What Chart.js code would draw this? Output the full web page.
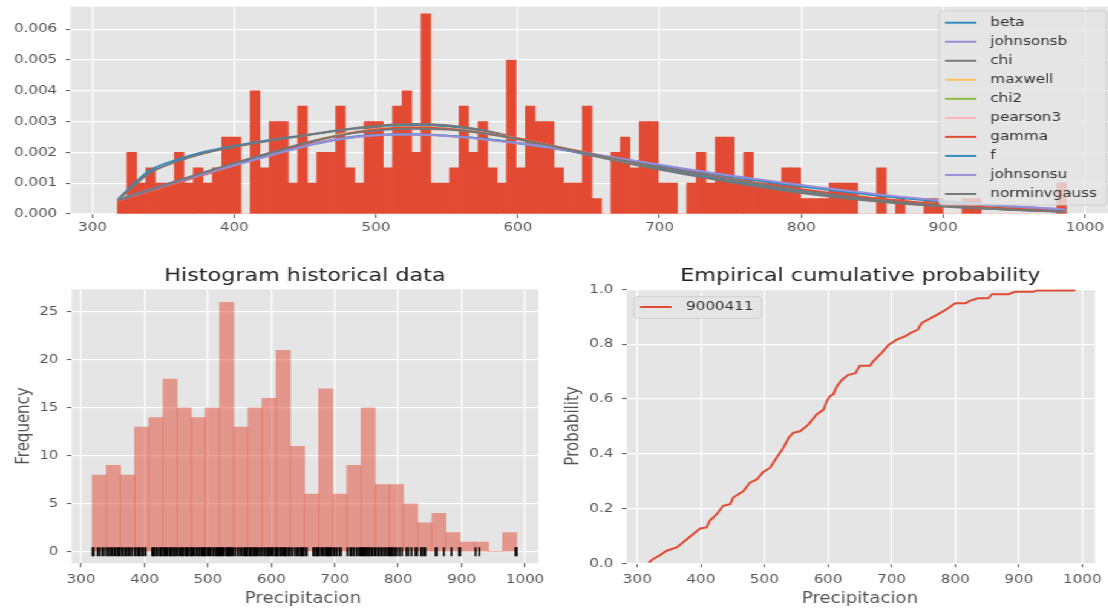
<!DOCTYPE html>
<html>
<head>
<meta charset="utf-8">
<script src="https://cdn.jsdelivr.net/npm/chart.js@4.4.0/dist/chart.umd.min.js"></script>
<style>
  html, body { margin: 0; padding: 0; background: #ffffff; overflow: hidden; width: 1108px; height: 610px; }
  /* the figure is laid out narrow and widened as a whole */
  #figure { position: absolute; left: 0; top: 0; width: 920px; height: 610px; transform: scaleX(1.21); transform-origin: 0 0; }
  #figure canvas { position: absolute; }
</style>
</head>
<body>
<div id="figure">
  <canvas id="fitChart" width="920" height="245" style="left:0;top:0"></canvas>
  <canvas id="histChart" width="455" height="360" style="left:0;top:250px"></canvas>
  <canvas id="ecdfChart" width="460" height="360" style="left:456px;top:250px"></canvas>
</div>
<script>
const FONT = "'DejaVu Sans', sans-serif";

// ---- tick labels ----
const xTickValues = [300, 400, 500, 600, 700, 800, 900, 1000];
const densityTicks = [0, 0.001, 0.002, 0.003, 0.004, 0.005, 0.006];
const frequencyTicks = [0, 5, 10, 15, 20, 25];
const probabilityTicks = [0, 0.2, 0.4, 0.6, 0.8, 1.0];

// ---- histogram bins (precipitation range) ----
const binStart = 317.6;
const binEnd = 987.0;

// density histogram, 100 bins
const fineDensity = [
  0.0005, 0.002, 0.001, 0.0015, 0.001, 0.001, 0.002, 0.001, 0.0015, 0.001,
  0.0015, 0.0025, 0.0025, 0, 0.004, 0.0015, 0.003, 0.003, 0.001, 0.0035,
  0.001, 0.002, 0.002, 0.0035, 0.0015, 0.001, 0.003, 0.003, 0.0015, 0.0035,
  0.004, 0.002, 0.0065, 0.001, 0.001, 0.0015, 0.0035, 0.002, 0.003, 0.0015,
  0.001, 0.005, 0.0015, 0.0035, 0.003, 0.003, 0.0015, 0.001, 0.001, 0.0035,
  0.0005, 0, 0.002, 0.0025, 0.0015, 0.003, 0.003, 0.001, 0.001, 0,
  0.001, 0.002, 0.001, 0.0025, 0.0025, 0.001, 0.002, 0.001, 0.001, 0.001,
  0.0015, 0.0015, 0.0005, 0.0005, 0.0005, 0.001, 0.001, 0.001, 0, 0,
  0.0015, 0, 0.0005, 0, 0, 0.0005, 0.0005, 0, 0, 0.0005,
  0.0005, 0, 0, 0, 0, 0, 0, 0, 0, 0.001
];

// frequency histogram, 30 bins
const coarseCounts = [8, 9, 8, 13, 14, 18, 15, 14, 15, 26, 13, 15, 16, 21, 11, 6, 17, 6, 9, 15, 7, 7, 5, 3, 4, 2, 1, 1, 0, 2];

// individual observations shown as a rug
const rugValues = [
  318, 320, 326, 329, 333, 336, 340, 343, 346, 349, 352, 355, 358, 360, 363, 366, 369, 372, 375, 378,
  381, 385, 388, 391, 393, 396, 399, 402,
  412, 414, 416, 419, 422, 425, 427, 430, 432, 434, 437, 440, 442, 445, 447, 449, 452, 455, 458, 460,
  462, 465, 467, 469, 472, 474, 476, 479, 482, 485, 487, 490, 492, 494, 496, 499, 501, 503, 506, 509,
  512, 514, 516, 518, 520, 522, 524, 527, 530, 532, 533, 535, 537, 540, 543, 547, 550, 553, 556, 559,
  561, 563, 566, 568, 571, 573, 575, 577, 580, 583, 586, 589, 592, 594, 596, 598, 601, 603, 606, 608,
  610, 613, 615, 617, 620, 622, 624, 627, 630, 633, 637, 640, 643, 646, 648, 650, 653, 656,
  666, 668, 671, 673, 675, 678, 680, 683, 686, 688, 690, 692, 694, 697, 700, 703, 707, 710,
  720, 724, 727, 730, 734, 737, 740, 742, 744, 746, 748, 750, 752, 754, 756, 759, 762, 765, 768, 771,
  774, 777, 780, 783, 786, 788, 790, 792, 795, 798, 802, 806,
  813, 816, 821, 827, 830, 836, 838, 841, 843, 859, 861, 872, 884, 896, 898, 922, 928, 985, 987
];

// empirical cumulative probability of station 9000411
const ecdfX = [318, 325, 336, 346, 362, 378, 388, 399, 409, 414, 425, 435, 446, 451, 467, 477, 488, 498, 509, 519,
  530, 538, 545, 556, 569, 582, 593, 598, 603, 608, 614, 622, 632, 643, 650, 666, 671, 684, 695, 708,
  721, 729, 741, 747, 761, 776, 789, 800, 816, 823, 836, 852, 858, 884, 894, 923, 928, 986, 987];
const ecdfY = [0.003, 0.016, 0.03, 0.046, 0.058, 0.088, 0.107, 0.127, 0.131, 0.155, 0.179, 0.21, 0.216, 0.24, 0.264, 0.294, 0.306, 0.333, 0.349, 0.385,
  0.422, 0.458, 0.476, 0.482, 0.506, 0.543, 0.561, 0.591, 0.61, 0.616, 0.646, 0.67, 0.688, 0.694, 0.721, 0.721, 0.737, 0.767, 0.797, 0.816,
  0.828, 0.84, 0.852, 0.876, 0.894, 0.913, 0.931, 0.949, 0.949, 0.958, 0.967, 0.967, 0.982, 0.982, 0.991, 0.991, 0.996, 0.996, 1.0];
const stationName = '9000411';

// ---- fitted probability densities ----
const fitX = [318, 340, 360, 380, 400, 425, 450, 475, 500, 525, 550, 575, 600, 625, 650, 675, 700, 750, 800, 850, 900, 950, 986];
const fitBeta =         [0.00048, 0.00140, 0.00177, 0.00203, 0.00221, 0.00240, 0.00256, 0.00272, 0.00284, 0.00289, 0.00285, 0.00270, 0.00243, 0.00217, 0.00192, 0.00169, 0.00147, 0.00106, 0.00071, 0.00044, 0.00026, 0.00014, 0.00008];
const fitJohnsonsb =    [0.00046, 0.00079, 0.00107, 0.00133, 0.00159, 0.00190, 0.00220, 0.00243, 0.00256, 0.00259, 0.00254, 0.00244, 0.00231, 0.00215, 0.00197, 0.00178, 0.00159, 0.00123, 0.00092, 0.00064, 0.00041, 0.00022, 0.00010];
const fitChi =          [0.00046, 0.00132, 0.00171, 0.00199, 0.00218, 0.00238, 0.00255, 0.00273, 0.00286, 0.00292, 0.00288, 0.00273, 0.00246, 0.00219, 0.00192, 0.00167, 0.00144, 0.00103, 0.00068, 0.00042, 0.00024, 0.00013, 0.00007];
const fitMaxwell =      [0.00046, 0.00076, 0.00104, 0.00132, 0.00160, 0.00195, 0.00230, 0.00259, 0.00276, 0.00282, 0.00278, 0.00264, 0.00244, 0.00220, 0.00196, 0.00173, 0.00153, 0.00113, 0.00078, 0.00050, 0.00030, 0.00016, 0.00009];
const fitChi2 =         [0.00045, 0.00075, 0.00103, 0.00131, 0.00159, 0.00194, 0.00229, 0.00257, 0.00275, 0.00281, 0.00277, 0.00264, 0.00244, 0.00221, 0.00197, 0.00174, 0.00153, 0.00114, 0.00079, 0.00051, 0.00031, 0.00017, 0.00010];
const fitPearson3 =     [0.00045, 0.00074, 0.00102, 0.00130, 0.00158, 0.00193, 0.00228, 0.00257, 0.00275, 0.00281, 0.00277, 0.00264, 0.00245, 0.00221, 0.00197, 0.00174, 0.00154, 0.00114, 0.00079, 0.00051, 0.00031, 0.00017, 0.00010];
const fitGamma =        [0.00045, 0.00074, 0.00102, 0.00130, 0.00158, 0.00193, 0.00228, 0.00256, 0.00274, 0.00281, 0.00277, 0.00264, 0.00245, 0.00221, 0.00197, 0.00174, 0.00154, 0.00114, 0.00080, 0.00052, 0.00031, 0.00017, 0.00010];
const fitF =            [0.00046, 0.00078, 0.00106, 0.00133, 0.00160, 0.00192, 0.00222, 0.00245, 0.00257, 0.00259, 0.00254, 0.00244, 0.00230, 0.00213, 0.00195, 0.00176, 0.00157, 0.00121, 0.00089, 0.00062, 0.00040, 0.00024, 0.00015];
const fitJohnsonsu =    [0.00045, 0.00077, 0.00105, 0.00132, 0.00158, 0.00190, 0.00221, 0.00244, 0.00256, 0.00258, 0.00253, 0.00243, 0.00230, 0.00214, 0.00196, 0.00178, 0.00160, 0.00125, 0.00094, 0.00066, 0.00043, 0.00025, 0.00015];
const fitNorminvgauss = [0.00045, 0.00078, 0.00108, 0.00137, 0.00165, 0.00199, 0.00231, 0.00256, 0.00272, 0.00277, 0.00274, 0.00262, 0.00243, 0.00220, 0.00196, 0.00173, 0.00152, 0.00112, 0.00076, 0.00047, 0.00027, 0.00014, 0.00008];

const fitNames = ['beta', 'johnsonsb', 'chi', 'maxwell', 'chi2', 'pearson3', 'gamma', 'f', 'johnsonsu', 'norminvgauss'];
const fitSeries = [fitBeta, fitJohnsonsb, fitChi, fitMaxwell, fitChi2, fitPearson3, fitGamma, fitF, fitJohnsonsu, fitNorminvgauss];

// ggplot colour cycle
const C_RED = '#E24A33', C_BLUE = '#348ABD', C_PURPLE = '#988ED5', C_GREY = '#777777',
      C_YELLOW = '#FBC15E', C_GREEN = '#8EBA42', C_PINK = '#FFB5B8';
const fitColors = [C_BLUE, C_PURPLE, C_GREY, C_YELLOW, C_GREEN, C_PINK, C_RED, C_BLUE, C_PURPLE, C_GREY];

// ---- helpers ----
function binCenters(n) {
  const w = (binEnd - binStart) / n;
  return Array.from({ length: n }, (_, i) => binStart + w * (i + 0.5));
}

const TICK_COLOR = '#555555';
const gridOpts = { color: '#ffffff', lineWidth: 1.2, drawTicks: true, tickLength: 4, tickColor: TICK_COLOR, tickWidth: 1, offset: false };

function xAxis(min, max, pad, height) {
  return {
    type: 'linear', min, max, offset: false,
    grid: gridOpts,
    border: { display: false },
    ticks: { color: TICK_COLOR, font: { family: FONT, size: 12.5 }, padding: pad, maxRotation: 0, autoSkip: false,
             callback: v => String(v) },
    afterBuildTicks: s => { s.ticks = xTickValues.map(v => ({ value: v })); },
    afterFit: s => { s.height = height; s.paddingLeft = 0; s.paddingRight = 0; }
  };
}

function yAxis(min, max, values, fmt, width) {
  return {
    type: 'linear', min, max,
    grid: gridOpts,
    border: { display: false },
    ticks: { color: TICK_COLOR, font: { family: FONT, size: 12.5 }, padding: 7, autoSkip: false,
             callback: v => fmt(v) },
    afterBuildTicks: s => { s.ticks = values.map(v => ({ value: v })); },
    afterFit: s => { s.width = width; s.paddingTop = 0; s.paddingBottom = 0; }
  };
}

// grey panel behind the plotting area
const panelBackground = {
  id: 'panelBackground',
  beforeDraw(chart) {
    const { ctx, chartArea: a } = chart;
    ctx.save();
    ctx.fillStyle = '#E5E5E5';
    ctx.fillRect(a.left, a.top, a.right - a.left, a.bottom - a.top);
    ctx.restore();
  }
};

// titles and axis labels
const panelText = {
  id: 'panelText',
  afterDraw(chart, args, opts) {
    const ctx = chart.ctx;
    (opts.items || []).forEach(it => {
      ctx.save();
      ctx.font = `${it.size}px ${FONT}`;
      ctx.fillStyle = it.color;
      ctx.textAlign = 'center';
      ctx.textBaseline = 'middle';
      ctx.translate(it.x, it.y);
      if (it.vertical) ctx.rotate(-Math.PI / 2);
      ctx.fillText(it.text, 0, 0);
      ctx.restore();
    });
  }
};

function roundedBox(ctx, x, y, w, h, r) {
  ctx.beginPath();
  ctx.moveTo(x + r, y);
  ctx.lineTo(x + w - r, y);
  ctx.arcTo(x + w, y, x + w, y + r, r);
  ctx.lineTo(x + w, y + h - r);
  ctx.arcTo(x + w, y + h, x + w - r, y + h, r);
  ctx.lineTo(x + r, y + h);
  ctx.arcTo(x, y + h, x, y + h - r, r);
  ctx.lineTo(x, y + r);
  ctx.arcTo(x, y, x + r, y, r);
  ctx.closePath();
}

// semi-transparent legend box inside the plotting area
const boxLegend = {
  id: 'boxLegend',
  afterDatasetsDraw(chart, args, o) {
    if (!o.items) return;
    const ctx = chart.ctx;
    ctx.save();
    roundedBox(ctx, o.x, o.y, o.w, o.h, 3);
    ctx.fillStyle = 'rgba(229,229,229,0.8)';
    ctx.fill();
    ctx.strokeStyle = 'rgba(204,204,204,0.8)';
    ctx.lineWidth = 1;
    ctx.stroke();
    o.items.forEach((it, i) => {
      const cy = o.firstRow + i * o.rowH;
      ctx.strokeStyle = it.color;
      ctx.lineWidth = 2;
      ctx.beginPath();
      ctx.moveTo(o.lineX, cy);
      ctx.lineTo(o.lineX + o.lineLen, cy);
      ctx.stroke();
      ctx.fillStyle = '#333333';
      ctx.font = `12.5px ${FONT}`;
      ctx.textAlign = 'left';
      ctx.textBaseline = 'middle';
      ctx.fillText(it.label, o.textX, cy);
    });
    ctx.restore();
  }
};

const baseOptions = {
  responsive: false,
  devicePixelRatio: 1,
  animation: false,
  events: []
};

// ---- top: density histogram with fitted distributions ----
const fineX = binCenters(fineDensity.length);
const fitDatasets = fitSeries.map((vals, k) => ({
  type: 'line',
  label: fitNames[k],
  data: fitX.map((x, i) => ({ x, y: vals[i] })),
  borderColor: fitColors[k],
  borderWidth: 2,
  pointRadius: 0,
  fill: false,
  cubicInterpolationMode: 'monotone',
  order: fitSeries.length - k
}));

new Chart(document.getElementById('fitChart'), {
  type: 'bar',
  data: {
    datasets: [
      ...fitDatasets,
      {
        type: 'bar',
        label: 'density',
        data: fineX.map((x, i) => ({ x, y: fineDensity[i] })),
        backgroundColor: C_RED,
        borderWidth: 0,
        barPercentage: 1,
        categoryPercentage: 1,
        order: 50
      }
    ]
  },
  options: {
    ...baseOptions,
    layout: { padding: { top: 6.7, left: 0, right: 0, bottom: 0 } },
    scales: {
      x: xAxis(284.5, 1020, 2.5, 31),
      y: yAxis(0, 0.00673, densityTicks, v => v.toFixed(3), 58.3)
    },
    plugins: {
      legend: { display: false },
      tooltip: { enabled: false },
      boxLegend: {
        x: 776, y: 11, w: 138.5, h: 194,
        firstRow: 22.7, rowH: 19.03, lineX: 781, lineLen: 26, textX: 818.5,
        items: fitNames.map((n, k) => ({ label: n, color: fitColors[k] }))
      }
    }
  },
  plugins: [panelBackground, boxLegend]
});

// ---- bottom left: frequency histogram with rug ----
const coarseX = binCenters(coarseCounts.length);
new Chart(document.getElementById('histChart'), {
  type: 'bar',
  data: {
    datasets: [
      {
        type: 'scatter',
        label: 'rug',
        data: rugValues.map(v => ({ x: v, y: 0 })),
        pointStyle: 'line',
        pointRotation: 90,
        pointRadius: 4.5,
        pointBorderColor: '#000000',
        pointBorderWidth: 1.5,
        order: 1
      },
      {
        type: 'bar',
        label: 'Frequency',
        data: coarseX.map((x, i) => ({ x, y: coarseCounts[i] })),
        backgroundColor: 'rgba(226,74,51,0.5)',
        borderWidth: 0,
        barPercentage: 1,
        categoryPercentage: 1,
        order: 5
      }
    ]
  },
  options: {
    ...baseOptions,
    layout: { padding: { top: 39.3, left: 0, right: 10.1, bottom: 0 } },
    scales: {
      x: xAxis(285.3, 1021, 5, 46.7),
      y: yAxis(-1.21, 27.37, frequencyTicks, v => String(v), 59.3)
    },
    plugins: {
      legend: { display: false },
      tooltip: { enabled: false },
      panelText: {
        items: [
          { text: 'Histogram historical data', x: 252, y: 26, size: 18.4, color: '#222222' },
          { text: 'Precipitacion', x: 250.4, y: 349, size: 15, color: TICK_COLOR },
          { text: 'Frequency', x: 19.8, y: 176, size: 15, color: TICK_COLOR, vertical: true }
        ]
      }
    }
  },
  plugins: [panelBackground, panelText]
});

// ---- bottom right: empirical cumulative probability ----
new Chart(document.getElementById('ecdfChart'), {
  type: 'line',
  data: {
    datasets: [{
      label: stationName,
      data: ecdfX.map((x, i) => ({ x, y: ecdfY[i] })),
      borderColor: C_RED,
      borderWidth: 2,
      pointRadius: 0,
      fill: false,
      tension: 0
    }]
  },
  options: {
    ...baseOptions,
    layout: { padding: { top: 39.3, left: 0, right: 11, bottom: 0 } },
    scales: {
      x: xAxis(283.3, 1020, 5, 46.7),
      y: yAxis(0, 1, probabilityTicks, v => v.toFixed(1), 61.9)
    },
    plugins: {
      legend: { display: false },
      tooltip: { enabled: false },
      boxLegend: {
        x: 68, y: 46.7, w: 105.5, h: 21.6,
        firstRow: 57, rowH: 19, lineX: 73, lineLen: 26, textX: 111,
        items: [{ label: stationName, color: C_RED }]
      },
      panelText: {
        items: [
          { text: 'Empirical cumulative probability', x: 255, y: 26, size: 18.4, color: '#222222' },
          { text: 'Precipitacion', x: 254.7, y: 349, size: 15, color: TICK_COLOR },
          { text: 'Probability', x: 18.4, y: 176, size: 15, color: TICK_COLOR, vertical: true }
        ]
      }
    }
  },
  plugins: [panelBackground, boxLegend, panelText]
});
</script>
</body>
</html>
